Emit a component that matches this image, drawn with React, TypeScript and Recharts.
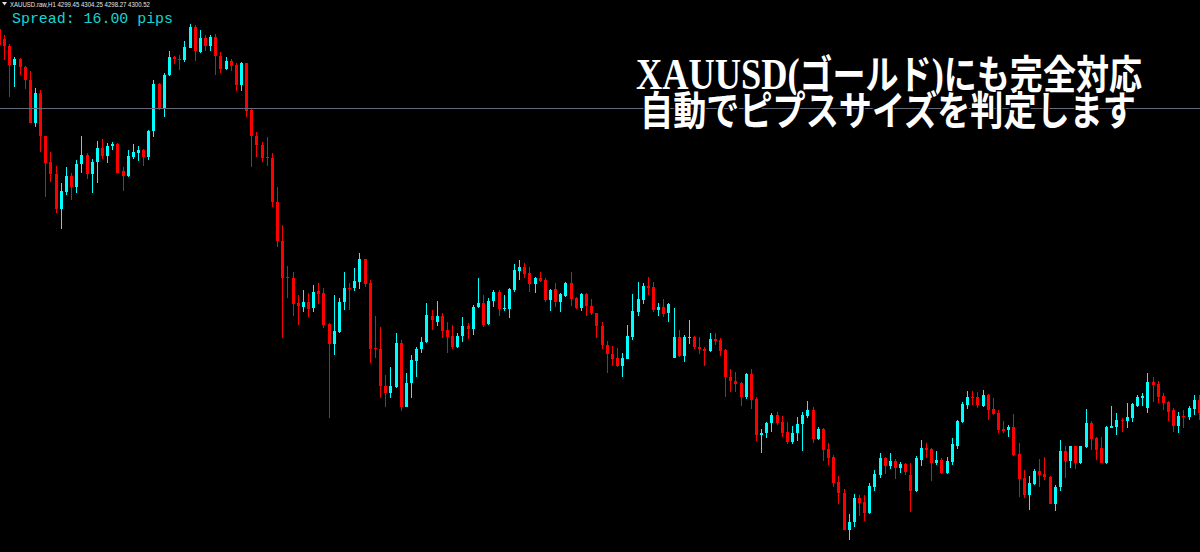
import React from 'react';
import { ComposedChart, Bar, XAxis, YAxis, ReferenceLine } from 'recharts';

// XAUUSD.raw H1 — one row per visible candle, left to right
const opens = [
  4485.5, 4480.5, 4477, 4467.5, 4470.5, 4466.5, 4460, 4438.5, 4453.5, 4432, 4419, 4413, 4395.5, 4404, 4412, 4406.5, 4418, 4422.5, 4413, 4419,
  4426, 4422, 4427, 4428, 4414.5, 4412, 4421.5, 4423.5, 4425, 4421.5, 4434.5, 4458, 4445.5, 4462.5, 4471.5, 4470.5, 4470, 4476, 4486.5, 4474,
  4481, 4477, 4481.5, 4472, 4465.5, 4469.5, 4467.5, 4457.5, 4468.5, 4445, 4432, 4427.5, 4421.5, 4421, 4399, 4379.5, 4361.5, 4361, 4348.5, 4346.5,
  4349, 4346, 4354.5, 4353.5, 4338, 4328, 4334, 4349, 4356, 4356, 4359, 4370.5, 4358.5, 4326, 4325.5, 4307, 4303.5, 4306.5, 4328.5, 4296.5,
  4308.5, 4319.5, 4325.5, 4329, 4342, 4339, 4342, 4335, 4332, 4326.5, 4332, 4337, 4335.5, 4346.5, 4348.5, 4338, 4349.5, 4354, 4345.5, 4345.5,
  4355, 4364.5, 4366.5, 4363.5, 4358, 4361, 4360, 4350, 4355.5, 4349, 4352, 4358.5, 4351, 4346, 4353, 4347, 4343.5, 4337, 4327.5, 4323,
  4321, 4317, 4320.5, 4331.5, 4344, 4350, 4357, 4356.5, 4345, 4346.5, 4343.5, 4321, 4331.5, 4322, 4331, 4331.5, 4326.5, 4325.5, 4324.5, 4330.5,
  4330, 4325, 4311.5, 4309.5, 4308.5, 4301.5, 4313, 4300.5, 4282.5, 4283.5, 4288.5, 4292.5, 4289, 4284, 4279, 4283.5, 4288, 4292, 4295, 4280.5,
  4285.5, 4275.5, 4271.5, 4259, 4253.5, 4235, 4239, 4251, 4249, 4243.5, 4256.5, 4262.5, 4271, 4267, 4269.5, 4266, 4268, 4262.5, 4254.5, 4270,
  4276, 4275.5, 4268.5, 4270, 4263.5, 4269, 4277, 4289, 4297.5, 4301.5, 4301.5, 4297, 4302.5, 4295.5, 4293.5, 4285.5, 4285, 4286.5, 4273, 4261,
  4252.5, 4258, 4264.5, 4263, 4261.5, 4248, 4256.5, 4274.5, 4269.5, 4277, 4268.5, 4276.5, 4288.5, 4281, 4276, 4268.5, 4286, 4286.5, 4290, 4289.5,
  4291, 4297, 4301, 4296, 4309, 4308, 4302, 4299, 4295, 4287, 4292, 4291.5, 4295.5, 4300,
];
const highs = [
  4486.5, 4482.5, 4478, 4471.5, 4471, 4467, 4464.5, 4456, 4455, 4432, 4424, 4417, 4408.5, 4416.5, 4413.5, 4420, 4432, 4423.5, 4420.5, 4429.5,
  4430.5, 4428.5, 4429, 4428.5, 4416.5, 4425, 4428, 4427, 4425.5, 4435, 4460, 4458.5, 4463.5, 4474.5, 4472, 4472.5, 4479.5, 4488, 4487.5, 4485,
  4482.5, 4482.5, 4483, 4474, 4471.5, 4470.5, 4468.5, 4469, 4468.5, 4446, 4434, 4429, 4431.5, 4423.5, 4406.5, 4387.5, 4367, 4364, 4352.5, 4355,
  4353.5, 4357.5, 4358.5, 4356, 4338.5, 4352.5, 4351, 4364, 4358.5, 4366, 4373.5, 4370.5, 4360, 4342, 4336.5, 4312.5, 4316.5, 4333.5, 4330, 4313.5,
  4322.5, 4326.5, 4331.5, 4348.5, 4345, 4349.5, 4343.5, 4339, 4337.5, 4333.5, 4341.5, 4338.5, 4347.5, 4361, 4352.5, 4351, 4355, 4355, 4352.5, 4356,
  4368, 4370, 4368.5, 4366.5, 4361.5, 4364, 4361, 4355.5, 4358.5, 4353.5, 4359, 4364, 4351.5, 4353.5, 4353.5, 4350.5, 4343.5, 4339, 4329.5, 4327,
  4326, 4323.5, 4337.5, 4353, 4359, 4358.5, 4361.5, 4359, 4348.5, 4350.5, 4348.5, 4346, 4335, 4332.5, 4340, 4332, 4331.5, 4326.5, 4333.5, 4333.5,
  4331, 4325.5, 4315.5, 4314, 4309, 4313.5, 4315.5, 4301.5, 4285.5, 4289, 4293.5, 4294, 4292, 4289, 4287, 4291.5, 4294, 4299.5, 4296.5, 4286.5,
  4286, 4278.5, 4272.5, 4262, 4255.5, 4243, 4253, 4252.5, 4252.5, 4258.5, 4265, 4273.5, 4271.5, 4273.5, 4270.5, 4269, 4268.5, 4268.5, 4272, 4280,
  4278.5, 4276, 4274.5, 4271, 4271.5, 4281, 4290, 4299, 4304.5, 4304.5, 4304, 4305, 4303, 4301, 4295, 4289.5, 4287.5, 4293, 4278.5, 4265,
  4262, 4265.5, 4270.5, 4271.5, 4262, 4257.5, 4280, 4277, 4277, 4277, 4277, 4295.5, 4289.5, 4281.5, 4281.5, 4287, 4297, 4293.5, 4291, 4298.5,
  4298.5, 4302.5, 4303.5, 4313.5, 4311.5, 4309.5, 4303.5, 4299.5, 4296, 4294, 4295, 4297, 4302.5, 4302.5,
];
const lows = [
  4475.5, 4470, 4451.5, 4456.5, 4462.5, 4455.5, 4438.5, 4436.5, 4424, 4401.5, 4409, 4393.5, 4385.5, 4402.5, 4400, 4403.5, 4413.5, 4410.5, 4403.5, 4408.5,
  4420.5, 4418.5, 4425, 4413.5, 4404.5, 4411.5, 4420.5, 4419.5, 4417, 4420, 4431.5, 4445, 4441.5, 4462, 4468, 4465, 4469, 4476, 4469.5, 4473.5,
  4474.5, 4474.5, 4462.5, 4463.5, 4465, 4464.5, 4454.5, 4454.5, 4441.5, 4416.5, 4421.5, 4419, 4417, 4396.5, 4376.5, 4331, 4351, 4342, 4337.5, 4344,
  4341.5, 4344, 4348, 4336, 4291, 4322.5, 4333.5, 4345, 4345, 4354.5, 4355.5, 4356.5, 4318.5, 4321, 4301, 4296.5, 4301, 4306, 4294.5, 4296.5,
  4301, 4311.5, 4323.5, 4328.5, 4335, 4337, 4331, 4323.5, 4325.5, 4326, 4329, 4330.5, 4332.5, 4346, 4336.5, 4337.5, 4346.5, 4342, 4344.5, 4341,
  4354, 4360, 4361, 4354, 4353.5, 4359, 4349, 4344.5, 4346.5, 4344, 4351.5, 4347, 4345.5, 4344.5, 4342, 4342.5, 4331, 4325.5, 4313.5, 4317,
  4316.5, 4311.5, 4320.5, 4330, 4342, 4348, 4352.5, 4344, 4342, 4341.5, 4339, 4321, 4321.5, 4319, 4328, 4325.5, 4323, 4317, 4324, 4327.5,
  4322, 4301.5, 4304, 4304, 4297, 4300.5, 4295.5, 4279.5, 4273.5, 4281, 4284, 4287.5, 4281.5, 4278, 4278, 4279.5, 4274.5, 4291, 4278.5, 4280,
  4269.5, 4267.5, 4256.5, 4248, 4235, 4230, 4236.5, 4242, 4239.5, 4243, 4254.5, 4261, 4263, 4265.5, 4260.5, 4263.5, 4262.5, 4244, 4254, 4267,
  4271, 4259.5, 4267.5, 4263, 4263, 4267.5, 4275.5, 4288.5, 4295.5, 4297.5, 4296, 4296.5, 4290, 4292.5, 4283.5, 4283.5, 4281.5, 4272, 4251.5, 4251,
  4245, 4257.5, 4256.5, 4260, 4248, 4244.5, 4254.5, 4261, 4266, 4265.5, 4268, 4276, 4275, 4270, 4268.5, 4268, 4286, 4282.5, 4284, 4286,
  4289, 4296.5, 4297, 4293.5, 4299, 4298.5, 4295, 4289.5, 4284, 4283.5, 4286, 4290, 4292.5, 4290,
];
const closes = [
  4477.5, 4477, 4467.5, 4470.5, 4466.5, 4460, 4438.5, 4453.5, 4432, 4418.5, 4413, 4395.5, 4404.5, 4412, 4406.5, 4418, 4422.5, 4413, 4419, 4426,
  4422, 4427, 4428, 4413.5, 4412, 4422, 4424, 4425, 4421.5, 4434.5, 4458, 4445.5, 4462.5, 4471.5, 4470.5, 4470, 4476.5, 4486.5, 4474.5, 4481,
  4477, 4481.5, 4472, 4465.5, 4469.5, 4467, 4457.5, 4468.5, 4444.5, 4432, 4427.5, 4421, 4421, 4399, 4379.5, 4361, 4361, 4348, 4347, 4349,
  4345.5, 4354, 4353, 4337.5, 4328, 4334.5, 4349, 4356, 4355.5, 4359.5, 4370.5, 4358, 4325.5, 4325.5, 4307, 4303.5, 4307, 4328.5, 4296.5, 4308.5,
  4320, 4325.5, 4329, 4342.5, 4340, 4342, 4334.5, 4331.5, 4326.5, 4332, 4337, 4335.5, 4346.5, 4348.5, 4337.5, 4349.5, 4354, 4345.5, 4346, 4355.5,
  4365, 4366.5, 4363, 4358, 4361, 4359.5, 4350, 4355, 4349, 4353, 4358.5, 4350.5, 4346, 4353, 4347, 4343.5, 4337, 4327.5, 4323, 4320.5,
  4317, 4321, 4332, 4344.5, 4350.5, 4357, 4356, 4345, 4346.5, 4343, 4348, 4331.5, 4322, 4331.5, 4331.5, 4326.5, 4325.5, 4324.5, 4330.5, 4329.5,
  4324.5, 4311.5, 4309.5, 4308, 4301.5, 4313, 4300, 4282.5, 4283.5, 4288.5, 4292.5, 4288.5, 4283.5, 4279, 4283.5, 4288, 4292.5, 4295, 4280.5, 4285.5,
  4275, 4271, 4258.5, 4253.5, 4235, 4239, 4251, 4248.5, 4243.5, 4257, 4263, 4271, 4267, 4269.5, 4266, 4268, 4264, 4254.5, 4271, 4276,
  4275, 4268.5, 4270, 4263.5, 4269.5, 4278, 4289.5, 4298, 4301.5, 4301, 4297.5, 4302.5, 4295, 4293, 4285, 4284.5, 4286.5, 4272.5, 4260.5, 4252.5,
  4258.5, 4264.5, 4262.5, 4261.5, 4248, 4256.5, 4274.5, 4269.5, 4277, 4268.5, 4277, 4288.5, 4280.5, 4275, 4268.5, 4286.5, 4287, 4290, 4289.5, 4291.5,
  4298, 4301.5, 4302, 4309, 4307.5, 4301.5, 4298.5, 4294, 4287, 4292, 4291.5, 4296, 4300, 4293.5,
];

const priceLevel = 4445.75;
const priceRange = [4224, 4500];

const candles = opens.map((open, i) => ({
  bar: i,
  open,
  high: highs[i],
  low: lows[i],
  close: closes[i],
}));

const UP = '#00ffff';
const DOWN = '#ff0000';

const Candle = (props: any) => {
  const { x, y, width, height, payload } = props;
  const { open, close, high, low } = payload;
  const color = close >= open ? UP : DOWN;
  const k = height / (high - low || 1);
  const py = (v: number) => y + (high - v) * k;
  const cx = Math.round(x + width / 2 - 0.5);
  const top = Math.round(py(Math.max(open, close)));
  const bot = Math.round(py(Math.min(open, close)));
  const wTop = Math.round(y);
  const wBot = Math.round(y + height);
  return (
    <g shapeRendering="crispEdges">
      <rect x={cx} y={wTop} width={1} height={Math.max(1, wBot - wTop)} fill={color} />
      <rect x={cx - 1} y={top} width={3} height={Math.max(1, bot - top)} fill={color} />
    </g>
  );
};

export default function App() {
  return (
    <div style={{ position: 'absolute', left: 0, top: 0, width: 1200, height: 552, background: '#000', overflow: 'hidden' }}>
      <div style={{ position: 'absolute', left: -3.4, top: 0 }}>
        <ComposedChart width={1205} height={552} data={candles} margin={{ top: 0, right: 0, bottom: 0, left: 0 }}>
          <XAxis dataKey="bar" type="category" hide />
          <YAxis type="number" domain={priceRange} allowDataOverflow hide />
          <ReferenceLine y={priceLevel} stroke="#646a7a" strokeWidth={1} ifOverflow="extendDomain" />
          <Bar
            dataKey={(d: any) => [d.low, d.high]}
            barSize={3}
            shape={<Candle />}
            isAnimationActive={false}
          />
        </ComposedChart>
      </div>
      <svg width={1200} height={552} style={{ position: 'absolute', left: 0, top: 0, pointerEvents: 'none' }}>
        <path d="M2 2 L7 2 L4.5 5.5 Z" fill="#e0e0e0" />
        <text x={10} y={7} fontSize={7} fill="#e6e6e6" fontFamily="'Liberation Sans', Arial, sans-serif" textLength={140} lengthAdjust="spacingAndGlyphs">
          XAUUSD.raw,H1  4299.45 4304.25 4298.27 4300.52
        </text>
        <text x={12} y={23} fontSize={15} fill="#14d6d6" fontFamily="'Liberation Mono', 'DejaVu Sans Mono', monospace" textLength={161} lengthAdjust="spacingAndGlyphs">
          Spread: 16.00 pips
        </text>
        <g fill="#ffffff" stroke="#000" strokeWidth={3} paintOrder="stroke" fontWeight={700} fontFamily="'Liberation Serif', 'Noto Sans CJK JP', serif">
          <text x={636} y={89} fontSize={40} textLength={506} lengthAdjust="spacingAndGlyphs">
            <tspan fontSize={44}>XAUUSD(</tspan>ゴールド<tspan fontSize={44}>)</tspan>にも完全対応
          </text>
          <text x={640} y={125} fontSize={40} textLength={496} lengthAdjust="spacingAndGlyphs">
            自動でピプスサイズを判定します
          </text>
        </g>
      </svg>
    </div>
  );
}
